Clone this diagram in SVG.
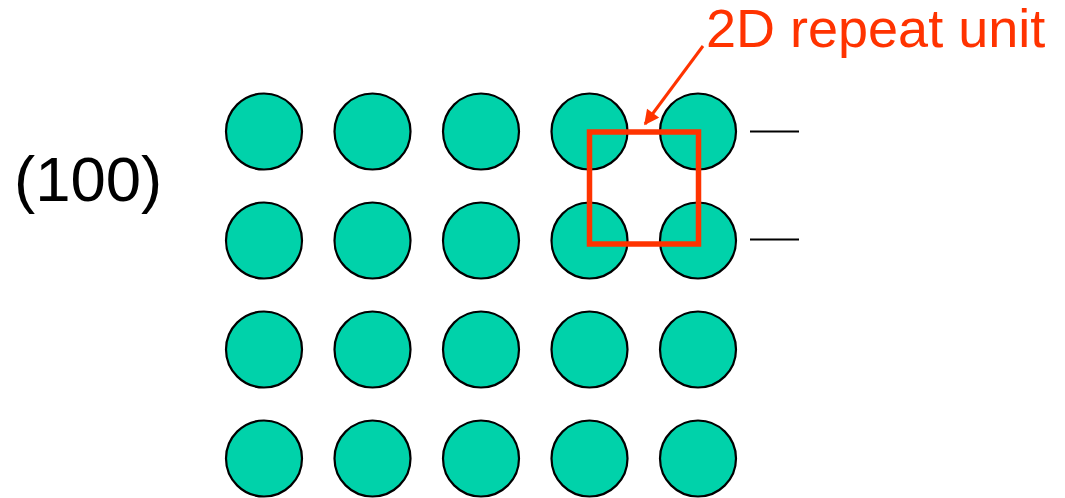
<svg xmlns="http://www.w3.org/2000/svg" width="1065" height="498" viewBox="0 0 1065 498">
  <style>
    .atom { fill: #00D2AA; stroke: #000; stroke-width: 2.2; }
    .tick { stroke: #000; stroke-width: 2.2; }
    .label { font-family: "Liberation Sans", Arial, sans-serif; }
    .red { stroke: #FF3300; fill: none; }
  </style>
  <defs>
    <marker id="arrowhead" viewBox="0 0 10 10" refX="9" refY="5" markerWidth="5.5" markerHeight="5" orient="auto" markerUnits="strokeWidth">
      <path d="M0,0 L10,5 L0,10 z" fill="#FF3300"/>
    </marker>
    <circle id="atom" r="38" class="atom"/>
  </defs>
  <rect width="1065" height="498" fill="#fff"/>

  <!-- plane label -->
  <g id="plane-label">
    <text class="label" x="14" y="201" font-size="63.5" fill="#000">(100)</text>
  </g>

  <!-- square lattice of atoms, 5 columns x 4 rows -->
  <g id="lattice">
    <g id="row1">
      <use href="#atom" x="264" y="131.5"/>
      <use href="#atom" x="372.5" y="131.5"/>
      <use href="#atom" x="481" y="131.5"/>
      <use href="#atom" x="589.5" y="131.5"/>
      <use href="#atom" x="698" y="131.5"/>
    </g>
    <g id="row2">
      <use href="#atom" x="264" y="240.5"/>
      <use href="#atom" x="372.5" y="240.5"/>
      <use href="#atom" x="481" y="240.5"/>
      <use href="#atom" x="589.5" y="240.5"/>
      <use href="#atom" x="698" y="240.5"/>
    </g>
    <g id="row3">
      <use href="#atom" x="264" y="349.5"/>
      <use href="#atom" x="372.5" y="349.5"/>
      <use href="#atom" x="481" y="349.5"/>
      <use href="#atom" x="589.5" y="349.5"/>
      <use href="#atom" x="698" y="349.5"/>
    </g>
    <g id="row4">
      <use href="#atom" x="264" y="458.5"/>
      <use href="#atom" x="372.5" y="458.5"/>
      <use href="#atom" x="481" y="458.5"/>
      <use href="#atom" x="589.5" y="458.5"/>
      <use href="#atom" x="698" y="458.5"/>
    </g>
  </g>

  <!-- repeat unit outline -->
  <g id="repeat-unit">
    <rect class="red" x="589.5" y="132" width="109" height="112" stroke-width="5.5"/>
  </g>

  <!-- row markers -->
  <g id="row-marks">
    <line class="tick" x1="750" y1="131.5" x2="799" y2="131.5"/>
    <line class="tick" x1="750" y1="239.5" x2="799" y2="239.5"/>
  </g>

  <!-- callout -->
  <g id="callout-label">
    <text class="label" x="706" y="47" font-size="54" fill="#FF3300">2D repeat unit</text>
  </g>
  <g id="connectors">
    <line class="red" x1="703" y1="46" x2="645" y2="124" stroke-width="3" marker-end="url(#arrowhead)"/>
  </g>
</svg>
